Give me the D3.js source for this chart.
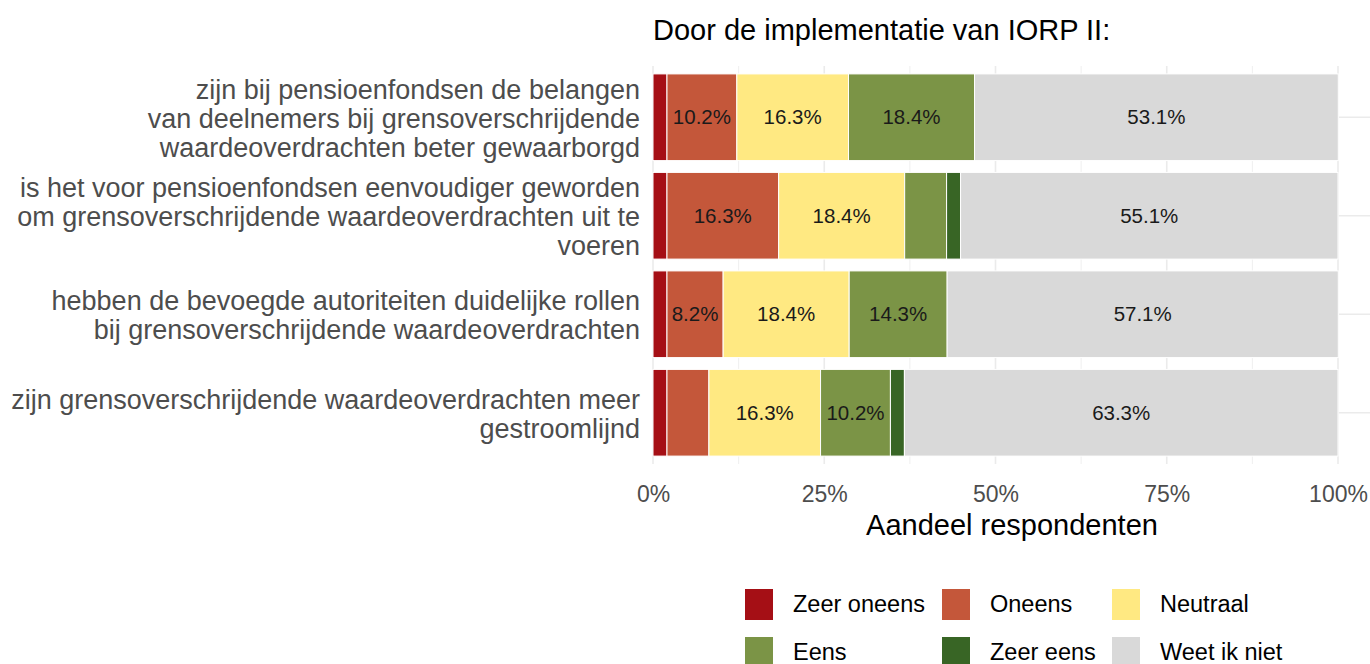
<!DOCTYPE html>
<html>
<head>
<meta charset="utf-8">
<script src="https://cdn.jsdelivr.net/npm/d3@7"></script>
<style>
  body { margin: 0; background: #fff; }
  text { font-family: "Liberation Sans", Arial, sans-serif; }
</style>
</head>
<body>
<script>
const categories = [
  ["zijn bij pensioenfondsen de belangen", "van deelnemers bij grensoverschrijdende", "waardeoverdrachten beter gewaarborgd"],
  ["is het voor pensioenfondsen eenvoudiger geworden", "om grensoverschrijdende waardeoverdrachten uit te", "voeren"],
  ["hebben de bevoegde autoriteiten duidelijke rollen", "bij grensoverschrijdende waardeoverdrachten"],
  ["zijn grensoverschrijdende waardeoverdrachten meer", "gestroomlijnd"]
];
const levels = ["Zeer oneens", "Oneens", "Neutraal", "Eens", "Zeer eens", "Weet ik niet"];
const colors = ["#a50f15", "#c4573a", "#ffe982", "#7b9446", "#386525", "#d9d9d9"];

// percentages per level, one value per category (same order as categories)
const zeerOneens = [2.04, 2.04, 2.04, 2.04];
const oneens     = [10.2, 16.3, 8.2, 6.12];
const neutraal   = [16.3, 18.4, 18.4, 16.3];
const eens       = [18.4, 6.12, 14.3, 10.2];
const zeerEens   = [0, 2.04, 0, 2.04];
const weetNiet   = [53.1, 55.1, 57.1, 63.3];
const xTicks = [0, 25, 50, 75, 100];

const series = [zeerOneens, oneens, neutraal, eens, zeerEens, weetNiet];

const w = 1370, h = 664;
const svg = d3.select("body").append("svg").attr("width", w).attr("height", h);

const x = d3.scaleLinear().domain([0, 100]).range([653, 1338]);
const y = d3.scaleBand().domain(d3.range(categories.length)).range([68, 462]).paddingInner(0.12).paddingOuter(0.06);

// grid
const grid = svg.append("g");
d3.range(0, 101, 12.5).forEach(v => {
  grid.append("line").attr("x1", x(v)).attr("x2", x(v)).attr("y1", 66).attr("y2", 464)
    .attr("stroke", "#ebebeb").attr("stroke-width", v % 25 === 0 ? 1.6 : 0.8);
});
categories.forEach((c, i) => {
  grid.append("line").attr("x1", 653).attr("x2", 1370)
    .attr("y1", y(i) + y.bandwidth() / 2).attr("y2", y(i) + y.bandwidth() / 2)
    .attr("stroke", "#ebebeb").attr("stroke-width", 1.6);
});

// bars
const rows = categories.map((c, i) => {
  let acc = 0;
  return series.map((s, k) => {
    const seg = { cat: i, level: k, start: acc, value: s[i] };
    acc += s[i];
    return seg;
  });
});

const bars = svg.append("g");
rows.forEach(row => {
  bars.selectAll(null).data(row.filter(d => d.value > 0)).enter().append("rect")
    .attr("x", d => x(d.start))
    .attr("y", d => y(d.cat))
    .attr("width", d => x(d.start + d.value) - x(d.start))
    .attr("height", y.bandwidth())
    .attr("fill", d => colors[d.level])
    .attr("stroke", "#fff").attr("stroke-width", 1);
  bars.selectAll(null).data(row.filter(d => d.value >= 8)).enter().append("text")
    .attr("x", d => x(d.start + d.value / 2))
    .attr("y", d => y(d.cat) + y.bandwidth() / 2)
    .attr("dy", "0.35em")
    .attr("text-anchor", "middle")
    .attr("font-size", 20.5)
    .attr("fill", "#1a1a1a")
    .text(d => d.value.toFixed(1) + "%");
});

// y labels
categories.forEach((lines, i) => {
  const cy = y(i) + y.bandwidth() / 2 + 1;
  const lh = 29;
  const t = svg.append("text").attr("text-anchor", "end").attr("font-size", 27).attr("fill", "#4d4d4d");
  lines.forEach((l, j) => {
    t.append("tspan").attr("x", 640)
      .attr("y", cy + (j - (lines.length - 1) / 2) * lh)
      .attr("dy", "0.36em").text(l);
  });
});

// x axis
const xAxis = d3.axisBottom(x).tickValues(xTicks).tickFormat(d => d + "%").tickSize(0).tickPadding(0);
const ax = svg.append("g").attr("transform", "translate(0,486)").call(xAxis);
ax.select(".domain").remove();
ax.selectAll("text").attr("font-size", 23).attr("fill", "#4d4d4d")
  .attr("font-family", "Liberation Sans, Arial, sans-serif").attr("dy", "0.71em");

svg.append("text").attr("x", 1012).attr("y", 535).attr("text-anchor", "middle")
  .attr("font-size", 29).attr("fill", "#000").text("Aandeel respondenten");

// title
svg.append("text").attr("x", 653).attr("y", 40).attr("font-size", 29).attr("fill", "#000")
  .text("Door de implementatie van IORP II:");

// legend
const legCols = [745, 942, 1112];
const legRows = [604, 652];
const legend = svg.append("g");
levels.forEach((l, k) => {
  const cx = legCols[k % 3], cy = legRows[Math.floor(k / 3)];
  legend.append("rect").attr("x", cx).attr("y", cy - 15).attr("width", 28).attr("height", 31)
    .attr("fill", colors[k]);
  legend.append("text").attr("x", cx + 48).attr("y", cy).attr("dy", "0.36em")
    .attr("font-size", 23.5).attr("fill", "#000").text(l);
});
</script>
</body>
</html>
